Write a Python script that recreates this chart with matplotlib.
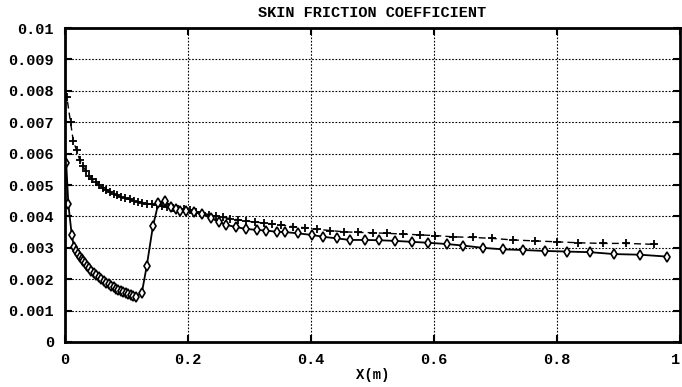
import numpy as np
import matplotlib.pyplot as plt

# turbulent ('+') series
x_plus = [0.000, 0.003, 0.009, 0.0135, 0.019, 0.024, 0.029, 0.034, 0.039, 0.044,
          0.050, 0.055, 0.061, 0.067, 0.073, 0.079, 0.085, 0.091, 0.098, 0.105,
          0.112, 0.119, 0.126, 0.134, 0.142, 0.150, 0.158, 0.166, 0.175, 0.184,
          0.193, 0.203, 0.213, 0.223, 0.234, 0.245, 0.257, 0.269, 0.282, 0.295,
          0.309, 0.323, 0.337, 0.352, 0.371, 0.390, 0.409, 0.431, 0.453, 0.477,
          0.501, 0.523, 0.549, 0.577, 0.602, 0.631, 0.663, 0.695, 0.728, 0.764,
          0.800, 0.835, 0.875, 0.913, 0.957]
cf_plus = [0.0080, 0.0078, 0.0070, 0.0064, 0.0061, 0.0058, 0.0056, 0.00545, 0.0053, 0.0052,
           0.0051, 0.00500, 0.00492, 0.00485, 0.00478, 0.00472, 0.00467, 0.00462, 0.00458, 0.00454,
           0.00450, 0.00447, 0.00444, 0.00441, 0.00438, 0.00435, 0.00432, 0.00429, 0.00426, 0.00424,
           0.00422, 0.00419, 0.00415, 0.00411, 0.00406, 0.00401, 0.00397, 0.00393, 0.00389, 0.00385,
           0.00382, 0.00379, 0.00376, 0.00373, 0.00367, 0.00364, 0.00359, 0.00355, 0.00351, 0.00349,
           0.00348, 0.00346, 0.00344, 0.00341, 0.00339, 0.00335, 0.00333, 0.00330, 0.00325, 0.00322,
           0.00319, 0.00316, 0.00314, 0.00314, 0.00311]

# transition ('diamond') series
x_diam = [0.002, 0.0054, 0.011, 0.0146, 0.018, 0.021, 0.024, 0.027, 0.030, 0.033,
          0.036, 0.039, 0.043, 0.047, 0.051, 0.055, 0.059, 0.063, 0.067, 0.071,
          0.075, 0.079, 0.083, 0.087, 0.091, 0.095, 0.099, 0.103, 0.107, 0.111,
          0.115, 0.125, 0.133, 0.143, 0.152, 0.163, 0.173, 0.180, 0.187, 0.196,
          0.209, 0.222, 0.238, 0.250, 0.262, 0.278, 0.295, 0.312, 0.327, 0.344,
          0.358, 0.379, 0.401, 0.420, 0.442, 0.463, 0.488, 0.511, 0.537, 0.564,
          0.591, 0.621, 0.648, 0.679, 0.712, 0.744, 0.780, 0.816, 0.854, 0.893,
          0.935, 0.979]
cf_diam = [0.0057, 0.0044, 0.0034, 0.00304, 0.00290, 0.00280, 0.00272, 0.00264, 0.00257, 0.00250,
           0.00243, 0.00236, 0.00227, 0.00220, 0.00213, 0.00206, 0.00200, 0.00195, 0.00189, 0.00184,
           0.00179, 0.00175, 0.00170, 0.00166, 0.00162, 0.00159, 0.00155, 0.00152, 0.00149, 0.00146,
           0.00144, 0.00157, 0.00243, 0.00369, 0.00443, 0.00449, 0.00431, 0.00422, 0.00418, 0.00416,
           0.00413, 0.00408, 0.00394, 0.00383, 0.00373, 0.00366, 0.00360, 0.00357, 0.00355, 0.00351,
           0.00350, 0.00346, 0.00341, 0.00335, 0.00330, 0.00325, 0.00325, 0.00324, 0.00322, 0.00319,
           0.00316, 0.00312, 0.00307, 0.00300, 0.00295, 0.00293, 0.00290, 0.00288, 0.00286, 0.00280,
           0.00278, 0.00272]

x_ticks = [0, 0.2, 0.4, 0.6, 0.8, 1]
y_ticks = [0, 0.001, 0.002, 0.003, 0.004, 0.005, 0.006, 0.007, 0.008, 0.009, 0.01]

plt.rcParams['font.family'] = ['Liberation Mono', 'DejaVu Sans Mono']
plt.rcParams['font.weight'] = 'bold'

fig = plt.figure(figsize=(6.82, 3.87), dpi=100)
ax = fig.add_axes([0.0953, 0.1163, 0.9017, 0.8113])

ax.plot(x_plus, cf_plus, color='black', linestyle=(0, (5, 3)), linewidth=1,
        marker='+', markersize=6, markeredgewidth=1.3)
ax.plot(x_diam, cf_diam, color='black', linestyle='-', linewidth=1.3,
        marker='d', markersize=5, markerfacecolor='white', markeredgewidth=1.2)

ax.set_xlim(0, 1)
ax.set_ylim(0, 0.01)
ax.set_xticks(x_ticks)
ax.set_yticks(y_ticks)
ax.set_xticklabels(['%g' % v for v in x_ticks])
ax.set_yticklabels(['%g' % v for v in y_ticks])
ax.tick_params(direction='in', top=True, right=True, length=5, width=1.5,
               labelsize=11, pad=8)
ax.get_xticklabels()[-1].set_horizontalalignment('right')
ax.grid(True, color='black', linestyle=(0, (1.5, 1.5)), linewidth=0.8)
for s in ax.spines.values():
    s.set_linewidth(2)

ax.set_title('SKIN FRICTION COEFFICIENT', fontsize=11, fontweight='bold', pad=8)
ax.set_xlabel('X(m)', fontsize=10, fontweight='bold', labelpad=1)

plt.savefig('out.png', dpi=100)
